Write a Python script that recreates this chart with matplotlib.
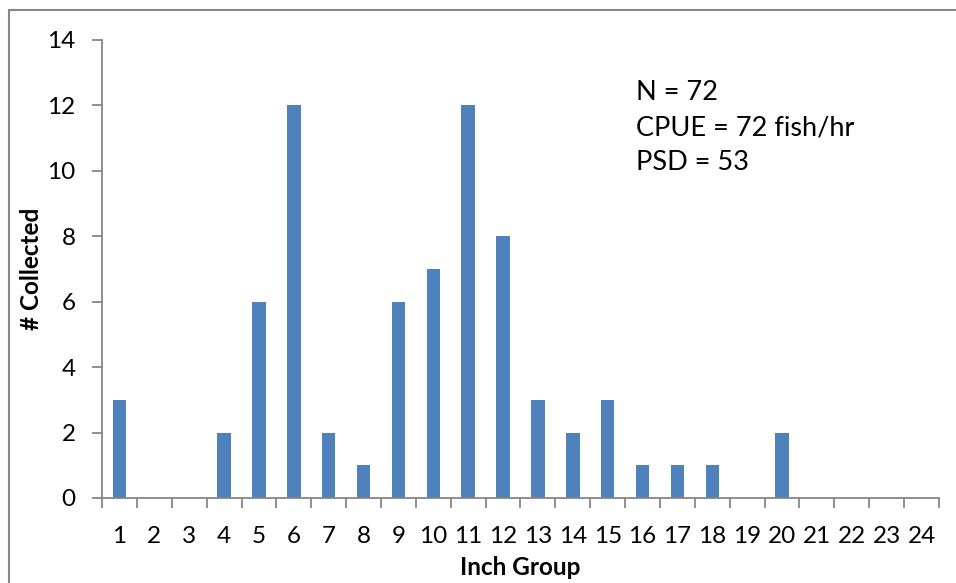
import matplotlib.pyplot as plt
import matplotlib.patches as mpatches
import numpy as np

plt.rcParams['font.family'] = ['Lato', 'DejaVu Sans']

# Data
inch_groups = [str(i) for i in range(1, 25)]
counts = [3, 0, 0, 2, 6, 12, 2, 1, 6, 7, 12, 8, 3, 2, 3, 1, 1, 1, 0, 2, 0, 0, 0, 0]
y_ticks = [0, 2, 4, 6, 8, 10, 12, 14]
notes = ["N = 72", "CPUE = 72 fish/hr", "PSD = 53"]

fig = plt.figure(figsize=(9.56, 5.83), dpi=100)
ax = fig.add_axes([0.1067, 0.1458, 0.8755, 0.7856])

x = np.arange(len(inch_groups))
ax.bar(x, counts, width=0.39, color="#4f81bd")

ax.set_xlim(-0.5, len(inch_groups) - 0.5)
ax.set_ylim(0, 14)
ax.set_yticks(y_ticks)
ax.set_xticks(x)
ax.set_xticklabels(inch_groups)
# ticks between categories
ax.set_xticks(np.arange(-0.5, len(inch_groups)), minor=True)
ax.tick_params(axis="x", which="major", length=0, labelsize=17.5, pad=20)
ax.tick_params(axis="x", which="minor", length=7, width=1.3, color="#868686", direction="out")
ax.tick_params(axis="y", length=7, width=1.3, color="#868686", labelsize=17.5, pad=12)

for side in ["top", "right"]:
    ax.spines[side].set_visible(False)
for side in ["left", "bottom"]:
    ax.spines[side].set_color("#868686")
    ax.spines[side].set_linewidth(1.3)

ax.set_xlabel("Inch Group", fontsize=17.5, fontweight="bold")
ax.set_ylabel("# Collected", fontsize=17.5, fontweight="bold")
ax.yaxis.set_label_coords(-0.071, 0.5)
ax.xaxis.set_label_coords(0.5, -0.127)

for i, t in enumerate(notes):
    fig.text(636 / 956, 1 - (93 + 35 * i) / 583, t, fontsize=19.5, va="center", ha="left")

# chart border
fig.patches.append(mpatches.Rectangle((9 / 956, -0.05), 1.0, 1 - 10 / 583 + 0.05,
                                      transform=fig.transFigure, fill=False,
                                      edgecolor="#868686", linewidth=1.5))

plt.savefig("out.png", dpi=100)
